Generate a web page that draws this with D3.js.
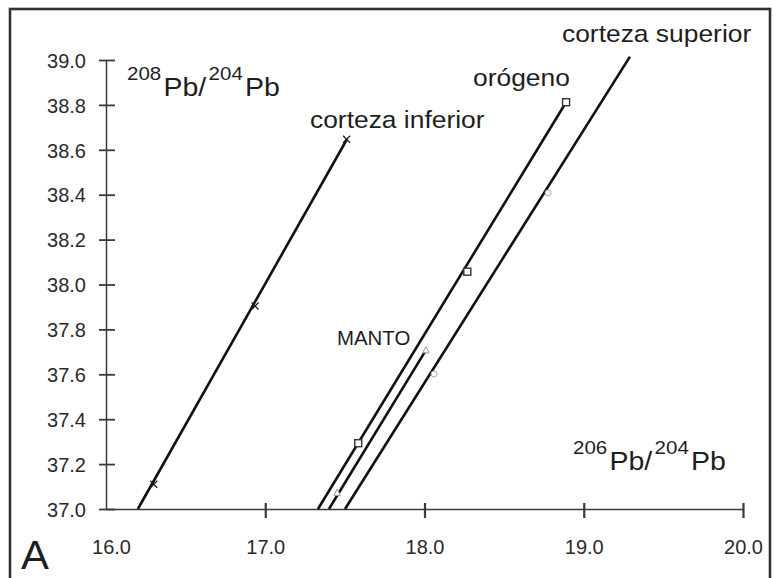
<!DOCTYPE html>
<html>
<head>
<meta charset="utf-8">
<script src="https://cdn.jsdelivr.net/npm/d3@7"></script>
<style>
  html, body { margin: 0; padding: 0; background: #fff; }
  svg { display: block; font-family: "Liberation Sans", Arial, Helvetica, sans-serif; }
</style>
</head>
<body>
<script>
// Pb isotope evolution curves (plumbotectonics): 208Pb/204Pb vs 206Pb/204Pb
const xTicks = [16.0, 17.0, 18.0, 19.0, 20.0];
const yTicks = [37.0, 37.2, 37.4, 37.6, 37.8, 38.0, 38.2, 38.4, 38.6, 38.8, 39.0];

// Reservoir names
const seriesNames = ["corteza inferior", "orógeno", "MANTO", "corteza superior"];

// Growth-curve end points (206Pb/204Pb, 208Pb/204Pb)
const lineX = [[16.20, 17.513], [17.331, 18.889], [17.400, 18.009], [17.501, 19.290]];
const lineY = [[37.00, 38.647], [37.00, 38.812], [37.00, 37.708], [37.00, 39.015]];

// Sampled points along each curve
const pointsX = [[16.30, 16.936, 17.511], [17.584, 18.269, 18.889], [17.452, 18.009], [18.060, 18.776]];
const pointsY = [[37.11, 37.904, 38.647], [37.293, 38.057, 38.812], [37.073, 37.708], [37.601, 38.408]];
const markerKinds = ["cross", "square", "triangle", "circle"];

const W = 774, H = 578;
const svg = d3.select("body").append("svg").attr("width", W).attr("height", H);

// outer frame
svg.append("rect")
  .attr("x", 10).attr("y", 9).attr("width", 760).attr("height", 620)
  .attr("fill", "none").attr("stroke", "#333").attr("stroke-width", 2.6);

const x = d3.scaleLinear().domain([16, 20]).range([106, 743]);
const y = d3.scaleLinear().domain([37, 39]).range([509, 60]);

// y axis
const gy = svg.append("g").attr("transform", `translate(${x(16)},0)`)
  .call(d3.axisLeft(y).tickValues(yTicks).tickFormat(d3.format(".1f"))
        .tickSizeInner(7).tickSizeOuter(0).tickPadding(13));
gy.select(".domain").attr("stroke", "#3a3a3a").attr("stroke-width", 1.5);
gy.selectAll(".tick line").attr("x1", 9).attr("stroke", "#3a3a3a").attr("stroke-width", 1.8);
gy.selectAll(".tick text").attr("font-size", 20).attr("fill", "#2a2a2a")
  .attr("font-family", "Liberation Sans, Arial, sans-serif").attr("dy", "0.36em");

// x axis
const gx = svg.append("g").attr("transform", `translate(0,${y(37)})`)
  .call(d3.axisBottom(x).tickValues(xTicks).tickFormat(d3.format(".1f"))
        .tickSizeInner(9).tickSizeOuter(0).tickPadding(22));
gx.select(".domain").attr("stroke", "#3a3a3a").attr("stroke-width", 1.5);
gx.selectAll(".tick line").attr("y1", -6).attr("stroke", "#3a3a3a").attr("stroke-width", 2.2);
gx.selectAll(".tick text").attr("font-size", 20).attr("fill", "#2a2a2a")
  .attr("font-family", "Liberation Sans, Arial, sans-serif");
gx.selectAll(".tick").filter(d => d === 16).select("line").remove();
gx.selectAll(".tick").filter(d => d === 16).select("text").attr("x", 5);

// growth lines
const lineGen = d3.line().x(d => x(d[0])).y(d => y(d[1]));
seriesNames.forEach((name, i) => {
  const pts = lineX[i].map((v, j) => [v, lineY[i][j]]);
  svg.append("path").attr("d", lineGen(pts))
    .attr("fill", "none").attr("stroke", "#111").attr("stroke-width", 2.6);
});

// markers
seriesNames.forEach((name, i) => {
  const kind = markerKinds[i];
  pointsX[i].forEach((px, j) => {
    const cx = x(px), cy = y(pointsY[i][j]);
    const g = svg.append("g").attr("transform", `translate(${cx},${cy})`);
    if (kind === "cross") {
      g.append("path").attr("d", "M-3.5,-3.5L3.5,3.5M-3.5,3.5L3.5,-3.5")
        .attr("stroke", "#222").attr("stroke-width", 1.3);
    } else if (kind === "square") {
      g.append("rect").attr("x", -3.5).attr("y", -3.5).attr("width", 7).attr("height", 7)
        .attr("fill", "#fff").attr("stroke", "#333").attr("stroke-width", 1.4);
    } else if (kind === "triangle") {
      g.append("path").attr("d", "M0,-3.5L3.2,2.8L-3.2,2.8Z")
        .attr("fill", "#fff").attr("stroke", "#999").attr("stroke-width", 1);
    } else {
      g.append("circle").attr("r", 3)
        .attr("fill", "#fff").attr("stroke", "#aaa").attr("stroke-width", 1);
    }
  });
});

// text helper with slight horizontal stretch
function label(txt, px, py, size, sx) {
  return svg.append("text")
    .attr("transform", `translate(${px},${py}) scale(${sx},1)`)
    .attr("font-size", size).attr("fill", "#1e1e1e").text(txt);
}

label("corteza superior", 562, 42, 24, 1.1);
label("orógeno", 473, 86, 24, 1.1);
label("corteza inferior", 310, 128, 24, 1.1);
label("MANTO", 337, 345, 20, 1.02);
label("A", 21, 569, 41, 1.02);

// isotope-ratio axis titles
function ratioTitle(num, den, px, py) {
  const t = svg.append("text")
    .attr("transform", `translate(${px},${py}) scale(1.14,1)`)
    .attr("fill", "#1e1e1e");
  t.append("tspan").attr("font-size", 18).attr("dy", -16).text(num);
  t.append("tspan").attr("font-size", 25).attr("dy", 16).attr("dx", 2).text("Pb/");
  t.append("tspan").attr("font-size", 18).attr("dy", -16).attr("dx", 2).text(den);
  t.append("tspan").attr("font-size", 25).attr("dy", 16).attr("dx", 2).text("Pb");
}
ratioTitle("208", "204", 127, 96);
ratioTitle("206", "204", 573, 470);
</script>
</body>
</html>
